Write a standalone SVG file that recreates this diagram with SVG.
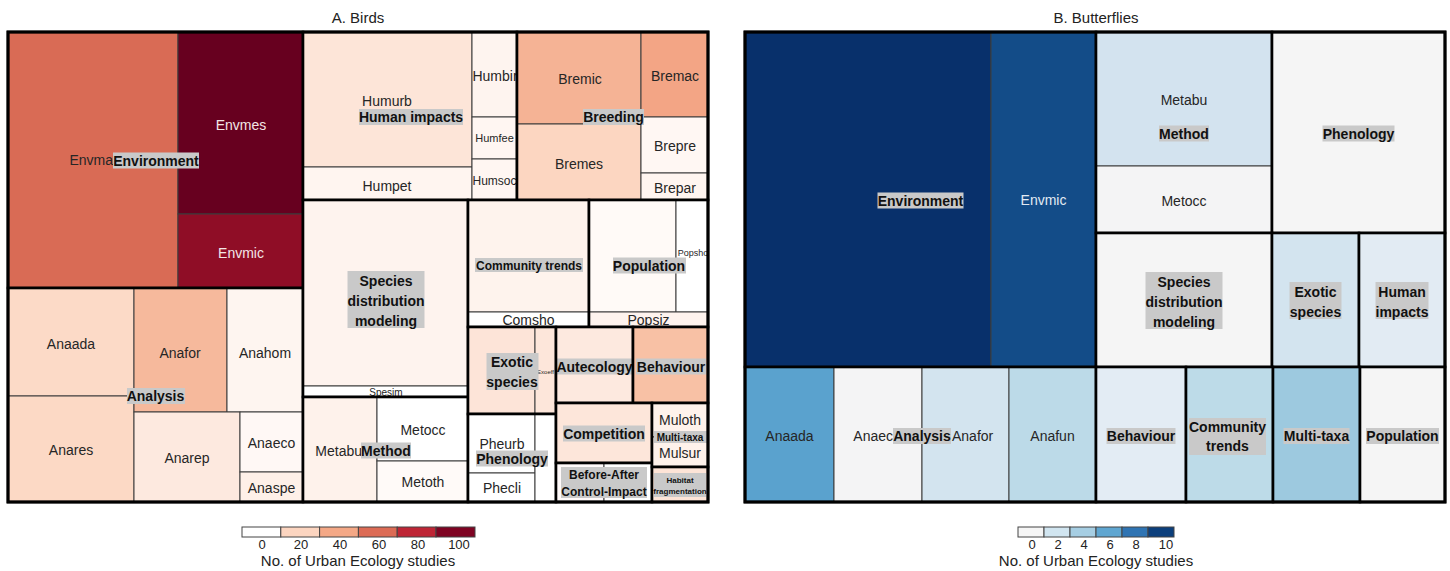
<svg xmlns="http://www.w3.org/2000/svg" width="1450" height="571" viewBox="0 0 1450 571">
<style>
.t{stroke:#3c3c3c;stroke-width:1}
.g{fill:none;stroke:#000;stroke-width:2.6}
.o{fill:none;stroke:#000;stroke-width:3}
.s{font-family:"Liberation Sans",Arial,sans-serif;font-size:14px;fill:#262626;text-anchor:middle}
.w{fill:#f3e6e6}
.wb{fill:#e2eaf3}
.l{font-family:"Liberation Sans",Arial,sans-serif;font-weight:bold;font-size:14px;fill:#111;text-anchor:middle}
.lb{fill:#c9c9c9}
.ttl{font-family:"Liberation Sans",Arial,sans-serif;font-size:15px;fill:#222;text-anchor:middle}
.tk{font-family:"Liberation Sans",Arial,sans-serif;font-size:13px;fill:#222;text-anchor:middle}
.lg{stroke:#444;stroke-width:1}
</style>
<rect width="1450" height="571" fill="#fff"/>
<text class="ttl" x="358" y="23">A. Birds</text>
<text class="ttl" x="1096" y="23">B. Butterflies</text>

<!-- ================= BIRDS ================= -->
<g id="birds-environment">
<rect class="t" x="8" y="32" width="170" height="256" fill="#d96b55"/>
<rect class="t" x="178" y="32" width="125" height="182" fill="#67001f"/>
<rect class="t" x="178" y="214" width="125" height="74" fill="#8f0d26"/>
<text class="s" x="113" y="165" style="text-anchor:end">Envma</text>
<text class="s w" x="241" y="130">Envmes</text>
<text class="s w" x="241" y="257.5">Envmic</text>
<rect class="lb" x="113" y="152.5" width="86" height="16"/>
<text class="l" x="156" y="165.5">Environment</text>
<rect class="g" x="8" y="32" width="295" height="256"/>
</g>

<g id="birds-analysis">
<rect class="t" x="8" y="288" width="126" height="108" fill="#fcdac7"/>
<rect class="t" x="8" y="396" width="126" height="106" fill="#fcd9c5"/>
<rect class="t" x="134" y="288" width="93" height="124" fill="#f6b99c"/>
<rect class="t" x="227" y="288" width="76" height="124" fill="#fef5f0"/>
<rect class="t" x="134" y="412" width="106" height="90" fill="#fde9df"/>
<rect class="t" x="240" y="412" width="63" height="60" fill="#fff8f5"/>
<rect class="t" x="240" y="472" width="63" height="30" fill="#fef0e8"/>
<text class="s" x="71" y="348.5">Anaada</text>
<text class="s" x="71" y="454.5">Anares</text>
<text class="s" x="180" y="357.5">Anafor</text>
<text class="s" x="265" y="357.5">Anahom</text>
<text class="s" x="187" y="463">Anarep</text>
<text class="s" x="271.5" y="448">Anaeco</text>
<text class="s" x="271.5" y="493">Anaspe</text>
<rect class="lb" x="127" y="388" width="58" height="16"/>
<text class="l" x="155.5" y="401">Analysis</text>
<rect class="g" x="8" y="288" width="295" height="214"/>
</g>

<g id="birds-human-impacts">
<rect class="t" x="303" y="32" width="169" height="135" fill="#fde5d8"/>
<rect class="t" x="303" y="167" width="169" height="33" fill="#fff5f0"/>
<rect class="t" x="472" y="32" width="45" height="85" fill="#fef4ef"/>
<rect class="t" x="472" y="117" width="45" height="42" fill="#fff6f2"/>
<rect class="t" x="472" y="159" width="45" height="41" fill="#fff6f2"/>
<text class="s" x="387" y="106">Humurb</text>
<text class="s" x="387" y="190.5">Humpet</text>
<text class="s" x="495" y="81">Humbir</text>
<text class="s" x="494.5" y="142" style="font-size:11px">Humfee</text>
<text class="s" x="494.5" y="184.5" style="font-size:12px">Humsoc</text>
<rect class="lb" x="359" y="109" width="104" height="16"/>
<text class="l" x="411" y="122">Human impacts</text>
<rect class="g" x="303" y="32" width="214" height="168"/>
</g>

<g id="birds-breeding">
<rect class="t" x="517" y="32" width="124" height="92" fill="#f5b395"/>
<rect class="t" x="641" y="32" width="67" height="85" fill="#f3a585"/>
<rect class="t" x="517" y="124" width="124" height="76" fill="#fcd6c1"/>
<rect class="t" x="641" y="117" width="67" height="56" fill="#fff7f3"/>
<rect class="t" x="641" y="173" width="67" height="27" fill="#fff5f0"/>
<text class="s" x="580" y="84">Bremic</text>
<text class="s" x="675" y="81">Bremac</text>
<text class="s" x="579" y="168.5">Bremes</text>
<text class="s" x="675" y="151">Brepre</text>
<text class="s" x="675" y="192.5">Brepar</text>
<rect class="lb" x="583" y="109" width="61" height="16"/>
<text class="l" x="613.5" y="122">Breeding</text>
<rect class="g" x="517" y="32" width="191" height="168"/>
</g>

<g id="birds-sdm">
<rect class="t" x="303" y="200" width="165" height="186" fill="#fef3ee"/>
<rect class="t" x="303" y="386" width="165" height="11" fill="#ffffff"/>
<text class="s" x="386" y="395.5" style="font-size:10px">Spesim</text>
<rect class="lb" x="347.5" y="271" width="77" height="57"/>
<text class="l" x="386" y="285.5">Species</text>
<text class="l" x="386" y="306">distribution</text>
<text class="l" x="386" y="326">modeling</text>
<rect class="g" x="303" y="200" width="165" height="197"/>
</g>

<g id="birds-method">
<rect class="t" x="303" y="397" width="74" height="105" fill="#fef2eb"/>
<rect class="t" x="377" y="397" width="91" height="64" fill="#ffffff"/>
<rect class="t" x="377" y="461" width="91" height="41" fill="#fffaf8"/>
<text class="s" x="362" y="455.5" style="text-anchor:end">Metabu</text>
<text class="s" x="423" y="435">Metocc</text>
<text class="s" x="423" y="487">Metoth</text>
<rect class="lb" x="361" y="442.5" width="50" height="16"/>
<text class="l" x="386" y="455.5">Method</text>
<rect class="g" x="303" y="397" width="165" height="105"/>
</g>

<g id="birds-community-trends">
<rect class="t" x="468" y="200" width="121" height="112" fill="#fef3ed"/>
<rect class="t" x="468" y="312" width="121" height="15" fill="#ffffff"/>
<text class="s" x="528.5" y="325">Comsho</text>
<rect class="lb" x="475" y="258" width="108" height="14"/>
<text class="l" x="529" y="269.5" style="font-size:12px">Community trends</text>
<rect class="g" x="468" y="200" width="121" height="127"/>
</g>

<g id="birds-population">
<rect class="t" x="589" y="200" width="87" height="112" fill="#fffaf7"/>
<rect class="t" x="676" y="200" width="32" height="112" fill="#ffffff"/>
<rect class="t" x="589" y="312" width="119" height="15" fill="#fef3ee"/>
<text class="s" x="693" y="255.5" style="font-size:9px">Popsho</text>
<text class="s" x="648.5" y="325">Popsiz</text>
<rect class="lb" x="613" y="257.5" width="73" height="16"/>
<text class="l" x="649" y="270.5">Population</text>
<rect class="g" x="589" y="200" width="119" height="127"/>
</g>

<g id="birds-exotic-species">
<rect class="t" x="468" y="327" width="67" height="87" fill="#fde4d8"/>
<rect class="t" x="535" y="327" width="21" height="87" fill="#fde6da"/>
<text class="s" x="545.5" y="374" style="font-size:6px">Exoeff</text>
<rect class="lb" x="486.5" y="353" width="52" height="37"/>
<text class="l" x="512" y="367">Exotic</text>
<text class="l" x="512" y="387">species</text>
<rect class="g" x="468" y="327" width="88" height="87"/>
</g>

<g id="birds-autecology">
<rect class="t" x="556" y="327" width="77" height="76" fill="#fde9df"/>
<rect class="lb" x="556.5" y="358.5" width="76" height="16"/>
<text class="l" x="594.5" y="371.5">Autecology</text>
<rect class="g" x="556" y="327" width="77" height="76"/>
</g>

<g id="birds-behaviour">
<rect class="t" x="633" y="327" width="75" height="76" fill="#f8c1a5"/>
<rect class="lb" x="636" y="358.5" width="70" height="16"/>
<text class="l" x="671" y="371.5">Behaviour</text>
<rect class="g" x="633" y="327" width="75" height="76"/>
</g>

<g id="birds-phenology">
<rect class="t" x="468" y="414" width="67" height="59" fill="#ffffff"/>
<rect class="t" x="468" y="473" width="67" height="29" fill="#ffffff"/>
<rect class="t" x="535" y="414" width="21" height="88" fill="#ffffff"/>
<text class="s" x="502" y="449">Pheurb</text>
<text class="s" x="502" y="492.5">Phecli</text>
<rect class="lb" x="476" y="450.5" width="72" height="16"/>
<text class="l" x="512" y="463.5">Phenology</text>
<rect class="g" x="468" y="414" width="88" height="88"/>
</g>

<g id="birds-competition">
<rect class="t" x="556" y="403" width="96" height="60" fill="#fde6da"/>
<rect class="lb" x="563" y="425.5" width="82" height="16"/>
<text class="l" x="604" y="438.5">Competition</text>
<rect class="g" x="556" y="403" width="96" height="60"/>
</g>

<g id="birds-baci">
<rect class="t" x="556" y="463" width="48" height="39" fill="#fffafa"/>
<rect class="t" x="604" y="463" width="48" height="39" fill="#ffffff"/>
<rect class="lb" x="561" y="467" width="86" height="31"/>
<text class="l" x="604" y="478.5" style="font-size:12px">Before-After</text>
<text class="l" x="604" y="496" style="font-size:12px">Control-Impact</text>
<rect class="g" x="556" y="463" width="96" height="39"/>
</g>

<g id="birds-multi-taxa">
<rect class="t" x="652" y="403" width="56" height="34" fill="#fef2eb"/>
<rect class="t" x="652" y="437" width="56" height="30" fill="#fef2eb"/>
<text class="s" x="680" y="424.5">Muloth</text>
<text class="s" x="680" y="458">Mulsur</text>
<rect class="lb" x="654" y="431" width="53" height="12"/>
<text class="l" x="680" y="440.5" style="font-size:10px">Multi-taxa</text>
<rect class="g" x="652" y="403" width="56" height="64"/>
</g>

<g id="birds-habitat-fragmentation">
<rect class="t" x="652" y="467" width="56" height="35" fill="#fde4d7"/>
<rect class="lb" x="654" y="473" width="52" height="24"/>
<text class="l" x="680" y="483" style="font-size:8px">Habitat</text>
<text class="l" x="680" y="494" style="font-size:8px">fragmentation</text>
<rect class="g" x="652" y="467" width="56" height="35"/>
</g>

<rect class="o" x="8" y="32" width="700" height="470"/>

<!-- ================= BUTTERFLIES ================= -->
<g id="bf-environment">
<rect class="t" x="745" y="32" width="246" height="335" fill="#08306b"/>
<rect class="t" x="991" y="32" width="105" height="335" fill="#134c88"/>
<text class="s wb" x="1043.5" y="205">Envmic</text>
<rect class="lb" x="877.5" y="192.5" width="86" height="16"/>
<text class="l" x="920.5" y="205.5">Environment</text>
<rect class="g" x="745" y="32" width="351" height="335"/>
</g>

<g id="bf-method">
<rect class="t" x="1096" y="32" width="176" height="134" fill="#d3e3ef"/>
<rect class="t" x="1096" y="166" width="176" height="67" fill="#f4f4f5"/>
<text class="s" x="1184" y="105">Metabu</text>
<text class="s" x="1184" y="205.5">Metocc</text>
<rect class="lb" x="1159" y="125.5" width="50" height="16"/>
<text class="l" x="1184" y="138.5">Method</text>
<rect class="g" x="1096" y="32" width="176" height="201"/>
</g>

<g id="bf-phenology">
<rect class="t" x="1272" y="32" width="173" height="201" fill="#f5f5f5"/>
<rect class="lb" x="1322.5" y="125.5" width="72" height="16"/>
<text class="l" x="1358.5" y="138.5">Phenology</text>
<rect class="g" x="1272" y="32" width="173" height="201"/>
</g>

<g id="bf-sdm">
<rect class="t" x="1096" y="233" width="176" height="134" fill="#f5f5f5"/>
<rect class="lb" x="1145.5" y="272" width="77" height="57"/>
<text class="l" x="1184" y="286.5">Species</text>
<text class="l" x="1184" y="307">distribution</text>
<text class="l" x="1184" y="327">modeling</text>
<rect class="g" x="1096" y="233" width="176" height="134"/>
</g>

<g id="bf-exotic-species">
<rect class="t" x="1272" y="233" width="87" height="134" fill="#d3e4ef"/>
<rect class="lb" x="1289.5" y="282" width="52" height="37"/>
<text class="l" x="1315.5" y="296.5">Exotic</text>
<text class="l" x="1315.5" y="316.5">species</text>
<rect class="g" x="1272" y="233" width="87" height="134"/>
</g>

<g id="bf-human-impacts">
<rect class="t" x="1359" y="233" width="86" height="134" fill="#e2ebf3"/>
<rect class="lb" x="1375.5" y="282" width="53" height="37"/>
<text class="l" x="1402" y="296.5">Human</text>
<text class="l" x="1402" y="316.5">impacts</text>
<rect class="g" x="1359" y="233" width="86" height="134"/>
</g>

<g id="bf-analysis">
<rect class="t" x="745" y="367" width="89" height="135" fill="#5aa2ce"/>
<rect class="t" x="834" y="367" width="88" height="135" fill="#f4f4f5"/>
<rect class="t" x="922" y="367" width="87" height="135" fill="#d3e4ef"/>
<rect class="t" x="1009" y="367" width="87" height="135" fill="#bcdae8"/>
<text class="s" x="789.5" y="441">Anaada</text>
<text class="s" x="893" y="441" style="text-anchor:end">Anaec</text>
<text class="s" x="952" y="441" style="text-anchor:start">Anafor</text>
<text class="s" x="1052.5" y="441">Anafun</text>
<rect class="lb" x="893" y="428" width="58" height="16"/>
<text class="l" x="922" y="441">Analysis</text>
<rect class="g" x="745" y="367" width="351" height="135"/>
</g>

<g id="bf-behaviour">
<rect class="t" x="1096" y="367" width="90" height="135" fill="#e3ecf4"/>
<rect class="lb" x="1106.5" y="428" width="69" height="16"/>
<text class="l" x="1141" y="441">Behaviour</text>
<rect class="g" x="1096" y="367" width="90" height="135"/>
</g>

<g id="bf-community-trends">
<rect class="t" x="1186" y="367" width="87" height="135" fill="#bddbe8"/>
<rect class="lb" x="1189" y="418" width="77" height="37"/>
<text class="l" x="1227.5" y="432">Community</text>
<text class="l" x="1227.5" y="451">trends</text>
<rect class="g" x="1186" y="367" width="87" height="135"/>
</g>

<g id="bf-multi-taxa">
<rect class="t" x="1273" y="367" width="87" height="135" fill="#9dc9df"/>
<rect class="lb" x="1283.5" y="428" width="66" height="16"/>
<text class="l" x="1316.5" y="441">Multi-taxa</text>
<rect class="g" x="1273" y="367" width="87" height="135"/>
</g>

<g id="bf-population">
<rect class="t" x="1360" y="367" width="85" height="135" fill="#f5f5f5"/>
<rect class="lb" x="1366" y="428" width="73" height="16"/>
<text class="l" x="1402.5" y="441">Population</text>
<rect class="g" x="1360" y="367" width="85" height="135"/>
</g>

<rect class="o" x="745" y="32" width="700" height="470"/>

<!-- connectors: none in this diagram -->
<g id="connectors"></g>

<!-- ================= LEGENDS ================= -->
<g id="legend-birds">
<rect class="lg" x="242" y="527" width="38.8" height="10" fill="#ffffff"/>
<rect class="lg" x="280.8" y="527" width="38.8" height="10" fill="#fcd5c0"/>
<rect class="lg" x="319.6" y="527" width="38.8" height="10" fill="#f4a886"/>
<rect class="lg" x="358.4" y="527" width="38.8" height="10" fill="#dc6b55"/>
<rect class="lg" x="397.2" y="527" width="38.8" height="10" fill="#be2535"/>
<rect class="lg" x="436" y="527" width="39" height="10" fill="#7e0322"/>
<text class="tk" x="262" y="549">0</text>
<text class="tk" x="301" y="549">20</text>
<text class="tk" x="340" y="549">40</text>
<text class="tk" x="379" y="549">60</text>
<text class="tk" x="418" y="549">80</text>
<text class="tk" x="459" y="549">100</text>
<text class="ttl" x="358" y="566">No. of Urban Ecology studies</text>
</g>

<g id="legend-butterflies">
<rect class="lg" x="1018" y="527" width="26" height="10" fill="#f5f5f5"/>
<rect class="lg" x="1044" y="527" width="26" height="10" fill="#d1e5f0"/>
<rect class="lg" x="1070" y="527" width="26" height="10" fill="#a6cee3"/>
<rect class="lg" x="1096" y="527" width="26" height="10" fill="#5fa6d1"/>
<rect class="lg" x="1122" y="527" width="26" height="10" fill="#2f74b3"/>
<rect class="lg" x="1148" y="527" width="26" height="10" fill="#0c3f7c"/>
<text class="tk" x="1032" y="549">0</text>
<text class="tk" x="1058" y="549">2</text>
<text class="tk" x="1084" y="549">4</text>
<text class="tk" x="1110" y="549">6</text>
<text class="tk" x="1136" y="549">8</text>
<text class="tk" x="1166" y="549">10</text>
<text class="ttl" x="1096" y="566">No. of Urban Ecology studies</text>
</g>
</svg>
